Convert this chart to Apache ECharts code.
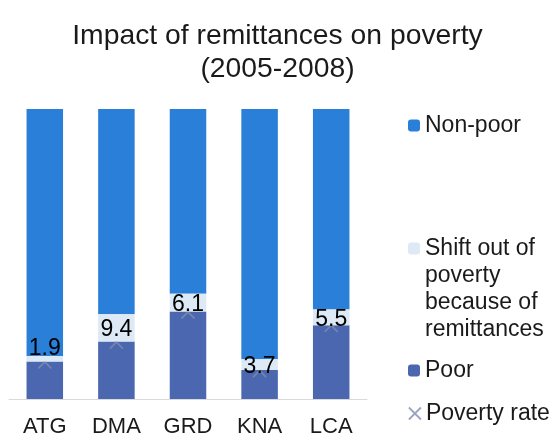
<!DOCTYPE html>
<html>
<head>
<meta charset="utf-8">
<script src="https://cdn.jsdelivr.net/npm/echarts@6/dist/echarts.min.js"></script>
<style>
  html, body { margin: 0; padding: 0; background: #fff; }
  #chart { width: 555px; height: 438px; }
</style>
</head>
<body>
<div id="chart"></div>
<script>
// Countries (ISO codes)
const categories = ['ATG', 'DMA', 'GRD', 'KNA', 'LCA'];

// Share of population, %
const poor = [12.9, 19.8, 30.2, 10.0, 25.4];
const shiftOut = [1.9, 9.4, 6.1, 3.7, 5.5];
const nonPoor = [85.2, 70.8, 63.7, 86.3, 69.1];
const povertyRate = [12.8, 19.6, 30.0, 9.8, 25.4];

const FONT = '"Liberation Sans", Arial, sans-serif';
const TXT = '#1a1a1a';

const xMark = 'path://M0,0L10,10M10,0L0,10';

const chart = echarts.init(document.getElementById('chart'), null, { renderer: 'canvas' });

const legendBase = {
  orient: 'vertical',
  left: 408,
  padding: 0,
  itemWidth: 12,
  itemHeight: 12,
  selectedMode: false,
  textStyle: { fontFamily: FONT, fontSize: 23, color: TXT, lineHeight: 27 }
};

chart.setOption({
  animation: false,
  backgroundColor: '#ffffff',
  title: {
    text: 'Impact of remittances on poverty\n(2005-2008)',
    left: 'center',
    top: 15,
    textStyle: { fontFamily: FONT, fontSize: 28.3, fontWeight: 'normal', color: TXT, lineHeight: 33 }
  },
  legend: [
    Object.assign({}, legendBase, { data: ['Non-poor'], top: 112 }),
    Object.assign({}, legendBase, {
      data: ['Shift out of poverty because of remittances'],
      top: 154,
      // three blank lines above keep the marker level with the first line
      formatter: () => ' \n \n \nShift out of\npoverty\nbecause of\nremittances'
    }),
    Object.assign({}, legendBase, { data: ['Poor'], top: 357 }),
    Object.assign({}, legendBase, {
      data: ['Poverty rate'], top: 400,
      itemStyle: { borderWidth: 1.8 }
    })
  ],
  grid: { left: 9, right: 188, top: 109, bottom: 37, containLabel: false },
  xAxis: {
    type: 'category',
    data: categories,
    axisTick: { show: false },
    axisLine: { lineStyle: { color: '#d9d9d9', width: 1 } },
    axisLabel: { fontFamily: FONT, fontSize: 22, color: TXT, margin: 17 }
  },
  yAxis: {
    type: 'value',
    min: 0,
    max: 100,
    show: false,
    splitLine: { show: false }
  },
  series: [
    {
      name: 'Poor',
      type: 'bar',
      stack: 'share',
      barCategoryGap: '49%',
      data: poor,
      itemStyle: { color: '#4a67b0' },
      z: 2
    },
    {
      name: 'Shift out of poverty because of remittances',
      type: 'bar',
      stack: 'share',
      // the ATG label sits above its thin segment
      data: shiftOut.map((v, i) => i === 0
        ? { value: v, label: { offset: [0, -10] } }
        : v),
      itemStyle: { color: '#dde9f5' },
      label: {
        show: true,
        position: 'inside',
        offset: [0, 2],
        fontFamily: FONT,
        fontSize: 23,
        color: '#000',
        formatter: p => p.value.toFixed(1)
      },
      z: 4
    },
    {
      name: 'Non-poor',
      type: 'bar',
      stack: 'share',
      data: nonPoor,
      itemStyle: { color: '#2a7fd8' },
      z: 2
    },
    {
      name: 'Poverty rate',
      type: 'scatter',
      data: povertyRate,
      symbol: xMark,
      symbolSize: 13,
      itemStyle: { color: 'rgba(0,0,0,0)', borderColor: '#7f8cab', borderWidth: 1.8 },
      z: 3
    }
  ]
});
</script>
</body>
</html>
